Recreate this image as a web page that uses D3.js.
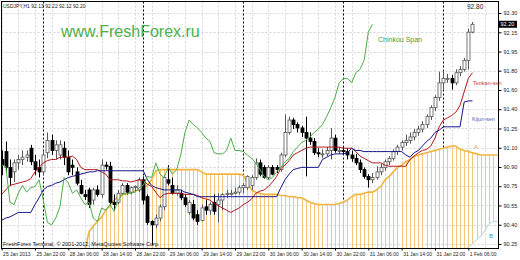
<!DOCTYPE html>
<html><head><meta charset="utf-8">
<script src="https://cdn.jsdelivr.net/npm/d3@7"></script>
<style>body{margin:0;background:#fff}svg{display:block}text{font-family:"Liberation Sans",Arial,sans-serif}</style>
</head><body><svg id="c" width="520" height="260"></svg>
<script>
const open = [
91.00,91.07,90.93,90.89,90.97,91.00,91.02,91.10,90.98,90.93,
90.89,91.06,91.17,91.08,91.04,91.10,91.02,90.95,90.89,90.77,
90.69,90.73,90.64,90.73,90.69,90.95,90.94,90.62,90.62,90.70,
90.77,90.71,90.75,90.73,90.82,90.67,90.45,90.42,90.48,90.58,
90.82,90.77,90.70,90.70,90.66,90.53,90.60,90.51,90.46,90.58,
90.55,90.62,90.60,90.64,90.69,90.70,90.70,90.71,90.75,90.75,
90.77,90.84,90.97,90.93,90.84,90.93,90.93,90.91,91.04,91.24,
91.35,91.31,91.28,91.24,91.19,91.16,91.06,91.05,91.05,91.08,
91.19,91.08,91.08,91.07,91.04,91.01,90.97,90.91,90.85,90.82,
90.84,90.89,90.93,90.98,91.01,91.07,91.11,91.15,91.17,91.20,
91.24,91.27,91.31,91.38,91.46,91.55,91.68,91.72,91.72,91.68,
91.77,91.80,91.88,92.13];
const high = [
91.08,91.16,91.00,91.00,91.04,91.08,91.08,91.13,91.04,91.00,
91.08,91.24,91.22,91.17,91.17,91.16,91.08,91.00,90.93,90.82,
90.73,90.75,90.75,90.77,91.00,90.98,90.98,90.69,90.73,90.79,
90.79,90.76,90.77,90.84,90.85,90.69,90.46,90.51,90.60,90.86,
90.95,90.84,90.77,90.73,90.69,90.64,90.64,90.55,90.60,90.64,
90.62,90.69,90.70,90.70,90.73,90.73,90.75,90.77,90.79,90.86,
90.86,91.01,91.00,90.95,90.95,90.95,90.95,91.06,91.40,91.38,
91.37,91.33,91.30,91.38,91.24,91.19,91.10,91.09,91.11,91.28,
91.22,91.11,91.11,91.10,91.08,91.05,91.00,90.93,90.87,90.88,
90.94,90.96,91.00,91.03,91.09,91.13,91.17,91.22,91.24,91.27,
91.30,91.34,91.40,91.48,91.57,91.78,91.79,91.76,91.75,91.80,
91.83,91.90,92.16,92.22];
const low = [
90.86,90.89,90.77,90.80,90.91,90.95,90.98,90.95,90.86,90.84,
90.86,91.01,91.04,91.00,91.00,90.95,90.86,90.86,90.77,90.69,
90.64,90.57,90.60,90.67,90.66,90.91,90.60,90.55,90.60,90.69,
90.69,90.69,90.71,90.71,90.60,90.42,90.24,90.39,90.45,90.55,
90.77,90.69,90.68,90.64,90.58,90.51,90.46,90.42,90.45,90.51,
90.51,90.51,90.44,90.55,90.66,90.68,90.69,90.69,90.70,90.73,
90.73,90.82,90.85,90.83,90.82,90.86,90.88,90.89,91.02,91.22,
91.27,91.24,91.20,90.85,91.13,91.04,91.02,91.01,91.03,91.00,
91.06,91.05,91.04,91.00,90.98,90.95,90.88,90.83,90.75,90.79,
90.82,90.86,90.90,90.95,90.99,91.04,91.08,91.12,91.14,91.17,
91.21,91.24,91.28,91.35,91.43,91.52,91.62,91.68,91.62,91.66,
91.74,91.78,91.80,92.12];
const close = [
90.95,90.93,90.84,90.97,91.00,91.02,91.04,90.98,90.91,90.89,
91.04,91.17,91.08,91.13,91.13,91.02,90.89,90.93,90.79,90.70,
90.67,90.60,90.73,90.69,90.95,90.94,90.62,90.60,90.70,90.77,
90.71,90.75,90.76,90.82,90.64,90.44,90.42,90.48,90.58,90.84,
90.79,90.70,90.73,90.66,90.60,90.62,90.48,90.45,90.57,90.55,
90.60,90.54,90.64,90.69,90.70,90.70,90.71,90.75,90.77,90.85,
90.84,90.97,90.87,90.84,90.93,90.87,90.91,91.04,91.24,91.35,
91.31,91.28,91.24,91.19,91.16,91.06,91.05,91.05,91.08,91.19,
91.08,91.08,91.07,91.04,91.01,90.97,90.91,90.85,90.82,90.84,
90.89,90.93,90.98,91.01,91.07,91.11,91.15,91.17,91.20,91.24,
91.27,91.31,91.38,91.46,91.55,91.68,91.72,91.72,91.68,91.77,
91.80,91.88,92.13,92.20];
const tenkan = [
90.69,90.73,90.77,90.78,90.79,90.80,90.81,90.83,90.89,90.93,
90.97,90.99,91.00,91.00,91.02,91.02,91.02,91.03,91.00,90.93,
90.91,90.91,90.91,90.91,90.89,90.87,90.82,90.82,90.82,90.81,
90.81,90.80,90.81,90.82,90.81,90.78,90.76,90.71,90.66,90.69,
90.70,90.70,90.70,90.70,90.69,90.69,90.69,90.68,90.66,90.65,
90.64,90.61,90.59,90.57,90.55,90.53,90.55,90.57,90.60,90.62,
90.65,90.70,90.72,90.73,90.76,90.80,90.85,90.92,90.95,90.99,
91.04,91.06,91.08,91.10,91.11,91.11,91.11,91.11,91.11,91.11,
91.11,91.11,91.10,91.10,91.10,91.07,91.03,91.01,90.99,90.97,
90.97,90.97,90.95,90.94,90.94,90.94,90.94,90.94,91.00,91.03,
91.06,91.08,91.09,91.12,91.19,91.29,91.35,91.37,91.39,91.42,
91.48,91.60,91.72,91.77];
const kijun = [
90.46,90.48,90.49,90.51,90.53,90.53,90.53,90.53,90.60,90.66,
90.73,90.76,90.77,90.79,90.80,90.82,90.84,90.85,90.86,90.87,
90.88,90.89,90.89,90.90,90.90,90.90,90.90,90.90,90.90,90.90,
90.90,90.90,90.90,90.90,90.90,90.82,90.77,90.75,90.74,90.73,
90.73,90.73,90.73,90.73,90.71,90.70,90.69,90.67,90.67,90.67,
90.67,90.67,90.67,90.67,90.67,90.67,90.67,90.67,90.67,90.67,
90.67,90.67,90.67,90.67,90.67,90.67,90.67,90.75,90.82,90.87,
90.91,90.92,90.93,90.93,90.93,90.93,90.93,91.00,91.02,91.04,
91.05,91.05,91.05,91.06,91.10,91.08,91.08,91.07,91.07,91.07,
91.07,91.07,91.07,91.07,91.07,91.07,91.07,91.04,91.02,91.06,
91.08,91.12,91.16,91.19,91.24,91.26,91.29,91.29,91.29,91.29,
91.29,91.51,91.52,91.52];
// Chikou span: closes plotted 24 bars back
const chinkou = [
90.95,90.94,90.62,90.60,90.70,90.77,90.71,90.75,90.76,90.82,
90.64,90.44,90.42,90.48,90.58,90.84,90.79,90.70,90.73,90.66,
90.60,90.62,90.48,90.45,90.57,90.55,90.60,90.54,90.64,90.69,
90.70,90.70,90.71,90.75,90.77,90.85,90.84,90.97,90.87,90.84,
90.93,90.87,90.91,91.04,91.24,91.35,91.31,91.28,91.24,91.19,
91.16,91.06,91.05,91.05,91.08,91.19,91.08,91.08,91.07,91.04,
91.01,90.97,90.91,90.85,90.82,90.84,90.89,90.93,90.98,91.01,
91.07,91.11,91.15,91.17,91.20,91.24,91.27,91.31,91.38,91.46,
91.55,91.68,91.72,91.72,91.68,91.77,91.80,91.88,92.13,92.20];
// Senkou spans (shifted ahead); null = below the visible range
const spanA = [
null,null,null,null,null,null,null,null,null,null,
null,null,null,null,null,null,null,null,null,null,
90.20,90.36,90.41,90.45,90.49,90.55,90.59,90.64,90.67,90.69,
90.69,90.71,90.72,90.73,90.75,90.77,90.82,90.90,90.91,90.91,
90.91,90.91,90.91,90.91,90.91,90.91,90.91,90.91,90.89,90.87,
90.87,90.87,90.87,90.87,90.87,90.87,90.87,90.87,90.86,90.79,
90.73,90.71,90.70,90.69,90.69,90.69,90.69,90.68,90.68,90.67,
90.67,90.66,90.66,90.64,90.62,90.61,90.60,90.60,90.60,90.60,
90.60,90.61,90.62,90.64,90.67,90.69,90.69,90.70,90.71,90.71,
90.73,90.76,90.82,90.85,90.89,90.93,90.95,90.98,91.00,91.03,
91.04,91.05,91.06,91.07,91.08,91.09,91.10,91.11,91.12,91.12,
91.09,91.08,91.07,91.06,91.05,91.04,91.04,91.04,91.04,91.04];
const spanB = [
null,null,null,null,null,null,null,null,null,null,
null,null,null,null,null,null,null,null,null,null,
null,null,null,null,null,null,null,null,null,null,
null,null,null,null,null,null,null,null,null,null,
null,null,null,null,null,null,null,null,null,null,
null,null,null,null,null,null,null,null,null,null,
null,null,null,null,null,null,null,null,null,null,
null,null,null,null,null,null,null,null,null,null,
null,null,null,null,null,null,null,null,null,null,
null,null,null,null,null,null,null,null,null,null,
null,null,null,null,null,null,null,null,null,null,
null,90.20,90.22,90.25,90.29,90.32,90.37,90.43,90.45,90.45];
const timeLabels = ["25 Jan 2013","25 Jan 22:00","28 Jan 06:00","28 Jan 14:00","28 Jan 22:00","29 Jan 06:00","29 Jan 14:00","29 Jan 22:00","30 Jan 06:00","30 Jan 14:00","30 Jan 22:00","31 Jan 06:00","31 Jan 14:00","31 Jan 22:00","1 Feb 06:00"];
const timeTickBars = [0,8,16,24,32,40,48,56,64,72,80,88,96,104,112];
const daySeparatorBars = [10,34,58,82,106];
const priceTicks = [92.300,92.129,91.958,91.788,91.617,91.446,91.275,91.104,90.933,90.763,90.592,90.421,90.250];
const priceLabels = ["92.30","92.15","91.95","91.80","91.60","91.40","91.25","91.10","90.90","90.75","90.55","90.40","90.25"];
const symbolTitle = "USDJPY,H1  92.13 92.22 92.12 92.20";
const chinkouShift = 24;

const W=520,H=260;
const P={l:1.5,t:1.5,r:498.5,b:248.5};
const x=d3.scaleLinear().domain([0,119]).range([1.6,497.5]);
const y=d3.scaleLinear().domain([90.25,92.30]).range([244,13]);
const svg=d3.select("#c");
svg.append("rect").attr("width",W).attr("height",H).attr("fill","#fff");
svg.append("defs").append("clipPath").attr("id","clip").append("rect")
  .attr("x",P.l).attr("y",P.t).attr("width",P.r-P.l).attr("height",P.b-P.t);
const g=svg.append("g").attr("clip-path","url(#clip)");
const px=i=>Math.round(x(i))+0.5;

// grid
g.selectAll(".hg").data(priceTicks).join("line")
  .attr("x1",P.l).attr("x2",P.r).attr("y1",d=>Math.round(y(d))+0.5).attr("y2",d=>Math.round(y(d))+0.5)
  .attr("stroke","#d4d4d4").attr("stroke-dasharray","2,2");
g.selectAll(".vg").data(d3.range(0,120,4)).join("line")
  .attr("x1",px).attr("x2",px).attr("y1",P.t).attr("y2",P.b)
  .attr("stroke","#d4d4d4").attr("stroke-dasharray","2,2");
g.selectAll(".sep").data(daySeparatorBars).join("line")
  .attr("x1",px).attr("x2",px).attr("y1",P.t).attr("y2",P.b)
  .attr("stroke","#000").attr("stroke-dasharray","2,2");

// cloud hatch
const cloudIdx=d3.range(spanA.length).filter(i=>spanA[i]!=null);
g.selectAll(".hatch").data(cloudIdx).join("line")
  .attr("x1",px).attr("x2",px)
  .attr("y1",i=>y(spanA[i])).attr("y2",i=>spanB[i]==null?P.b:y(spanB[i]))
  .attr("stroke","#f3c77c").attr("stroke-width",1);
const lineGen=(arr,off=0)=>d3.line().defined(d=>arr[d]!=null).x(d=>x(d+off)).y(d=>y(arr[d]))(d3.range(arr.length));
g.append("path").attr("d",lineGen(spanA)).attr("fill","none").attr("stroke","#f0b440").attr("stroke-width",1.6);
g.append("path").attr("d",lineGen(spanB)).attr("fill","none").attr("stroke","#b8d4e0").attr("stroke-width",1);

// candles
const cg=g.append("g");
const idx=d3.range(open.length);
const bull=i=>close[i]>=open[i];
cg.selectAll(".wick").data(idx).join("line")
  .attr("x1",px).attr("x2",px).attr("y1",i=>y(high[i])).attr("y2",i=>y(low[i]))
  .attr("stroke",i=>bull(i)?"#555":"#000");
cg.selectAll(".body").data(idx).join("rect")
  .attr("x",i=>px(i)-1.5).attr("width",3)
  .attr("y",i=>y(Math.max(open[i],close[i])))
  .attr("height",i=>Math.max(1,Math.abs(y(open[i])-y(close[i]))))
  .attr("fill",i=>bull(i)?"#fff":"#000")
  .attr("stroke",i=>bull(i)?"#555":"#000").attr("stroke-width",0.8);

// lines
g.append("path").attr("d",lineGen(tenkan)).attr("fill","none").attr("stroke","#b01818").attr("stroke-width",1);
g.append("path").attr("d",lineGen(kijun)).attr("fill","none").attr("stroke","#14148c").attr("stroke-width",1);
g.append("path").attr("d",lineGen(chinkou,0)).attr("fill","none").attr("stroke","#4aae4a").attr("stroke-width",1);

// frame
svg.append("rect").attr("x",P.l).attr("y",P.t).attr("width",P.r-P.l).attr("height",P.b-P.t)
  .attr("fill","none").attr("stroke","#000");

// axes
const ya=svg.append("g").attr("transform",`translate(${P.r},0)`)
  .call(d3.axisRight(y).tickValues(priceTicks).tickFormat((d,i)=>priceLabels[i]).tickSize(3).tickPadding(2));
ya.select(".domain").remove();
ya.selectAll("text").attr("font-size",5.5).attr("fill","#222").attr("font-family","Liberation Sans");
ya.selectAll(".tick line").attr("stroke","#000");
const xa=svg.append("g").attr("transform",`translate(0,${P.b})`)
  .call(d3.axisBottom(x).tickValues(timeTickBars).tickFormat((d,i)=>timeLabels[i]).tickSize(2).tickPadding(2));
xa.select(".domain").remove();
xa.selectAll("text").attr("font-size",5).attr("text-anchor","start").attr("dx",1).attr("fill","#222").attr("font-family","Liberation Sans");

// last price box
const last=close[close.length-1];
svg.append("rect").attr("x",499).attr("y",y(last)-3.5).attr("width",18).attr("height",7).attr("fill","#000");
svg.append("text").attr("x",500.5).attr("y",y(last)+2).text(last.toFixed(2)).attr("font-size",5.5).attr("fill","#fff");

// texts
const T=(s,xx,yy,fs,col)=>svg.append("text").attr("x",xx).attr("y",yy).attr("font-size",fs).attr("fill",col).text(s);
T(symbolTitle,3,8,5,"#222");
T("www.FreshForex.ru",61,37,16,"#4cb04c");
T("FreshForex Terminal, © 2001-2012, MetaQuotes Software Corp.",3,246,5.5,"#111");
T("92.80",467,9,6.5,"#222");
T("Chinkou Span",378,42,7,"#3c9c3c");
T("Tenkan-sen",473,85,5.5,"#c03a3a");
T("Kijun-sen",472,121,5.5,"#4a62b0");
T("A",474,149,6,"#e09a50");
T("B",489,238,6,"#3a9ac8");
</script></body></html>
